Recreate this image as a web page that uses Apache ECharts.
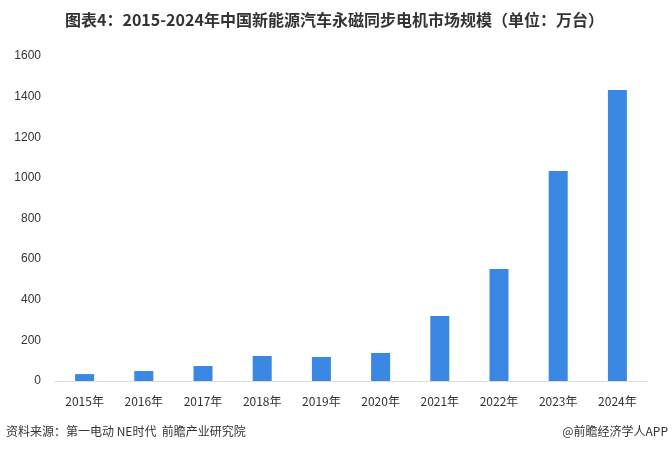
<!DOCTYPE html>
<html><head><meta charset="utf-8">
<script src="https://cdn.jsdelivr.net/npm/echarts@6/dist/echarts.min.js"></script>
<style>body{margin:0}#c{width:672px;height:452px}</style></head>
<body><div id="c"></div>
<script>
const categories=['2015年','2016年','2017年','2018年','2019年','2020年','2021年','2022年','2023年','2024年'];
const values=[34,49,74,123,118,138,320,551,1034,1433];
const yTicks=[0,200,400,600,800,1000,1200,1400,1600];
const title='图表4：2015-2024年中国新能源汽车永磁同步电机市场规模（单位：万台）';
const source='资料来源：第一电动 NE时代  前瞻产业研究院';
const credit='@前瞻经济学人APP';
const chart=echarts.init(document.getElementById('c'));
chart.setOption({
  animation:false,
  title:{text:title,left:60,top:7,textStyle:{fontSize:16,fontWeight:'bold',color:'#333',fontFamily:'Noto Sans CJK SC'}},
  graphic:[
    {type:'text',left:6,top:425,style:{text:source,fontSize:12,fill:'#333',fontFamily:'Noto Sans CJK SC'}},
    {type:'text',right:4,top:425,style:{text:credit,fontSize:12,fill:'#333',fontFamily:'Noto Sans CJK SC'}}
  ],
  grid:{left:55,right:25,top:56,bottom:71},
  xAxis:{type:'category',data:categories,axisTick:{show:false},axisLine:{lineStyle:{color:'#ddd'}},
    axisLabel:{color:'#333',fontSize:12,margin:14,fontFamily:'Noto Sans CJK SC'}},
  yAxis:{type:'value',min:yTicks[0],max:yTicks[yTicks.length-1],interval:200,splitLine:{show:false},
    axisLine:{show:false},axisTick:{show:false},axisLabel:{color:'#333',fontSize:12,margin:14,formatter:v=>String(v)}},
  series:[{type:'bar',data:values,barWidth:19,itemStyle:{color:'#3a87e4'}}]
});
</script></body></html>
